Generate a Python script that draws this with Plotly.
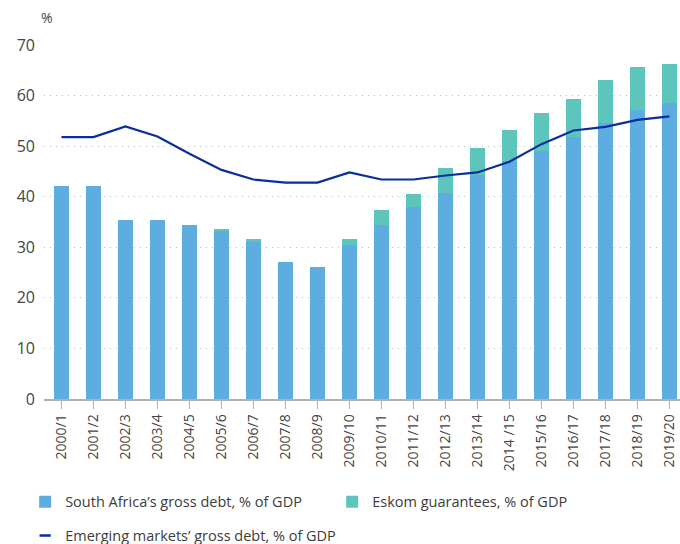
import plotly.graph_objects as go

years = ["2000/1", "2001/2", "2002/3", "2003/4", "2004/5", "2005/6", "2006/7", "2007/8",
         "2008/9", "2009/10", "2010/11", "2011/12", "2012/13", "2013/14", "2014 /15",
         "2015/16", "2016/17", "2017/18", "2018/19", "2019/20"]
sa_debt = [42.2, 42.2, 35.3, 35.3, 34.5, 33.2, 31.1, 27.0, 26.2, 30.4,
           34.5, 38.0, 40.8, 44.2, 47.1, 49.1, 51.9, 54.6, 57.2, 58.6]
eskom = [0, 0, 0, 0, 0, 0.5, 0.6, 0, 0, 1.3,
         2.8, 2.6, 4.8, 5.5, 6.0, 7.5, 7.5, 8.4, 8.5, 7.7]
em_debt = [51.8, 51.8, 53.9, 51.9, 48.5, 45.3, 43.4, 42.8, 42.8, 44.8,
           43.4, 43.4, 44.2, 44.8, 46.9, 50.4, 53.1, 53.8, 55.2, 55.9]
y_ticks = [0, 10, 20, 30, 40, 50, 60, 70]

BLUE = "#5dade0"
TEAL = "#5ec5bc"
NAVY = "#0a2d9e"
FONT = "Open Sans"
TXT = "#444444"

fig = go.Figure()
fig.add_trace(go.Bar(x=years, y=sa_debt, name="South Africa’s gross debt, % of GDP",
                     marker=dict(color=BLUE, line=dict(width=0)), legend="legend"))
fig.add_trace(go.Bar(x=years, y=eskom, name="Eskom guarantees, % of GDP",
                     marker=dict(color=TEAL, line=dict(width=0)), legend="legend"))
fig.add_trace(go.Scatter(x=years, y=em_debt, mode="lines", name="Emerging markets’ gross debt, % of GDP",
                         line=dict(color=NAVY, width=2.2), showlegend=False))
# legend-only entry with a short line symbol
fig.add_trace(go.Scatter(x=[None], y=[None], mode="markers", name="Emerging markets’ gross debt, % of GDP",
                         marker=dict(symbol="line-ew", size=8, color=NAVY, line=dict(width=2.5, color=NAVY)),
                         legend="legend2"))

fig.update_layout(
    width=680, height=544,
    margin=dict(l=44, r=0, t=45, b=145),
    paper_bgcolor="white", plot_bgcolor="white",
    barmode="stack", bargap=0.53,
    font=dict(family=FONT, color=TXT, size=14),
    showlegend=True,
    legend=dict(orientation="h", xref="container", yref="container", x=0.037, y=1 - 501.7 / 544,
                xanchor="left", yanchor="middle", entrywidth=262, entrywidthmode="pixels",
                font=dict(size=14.5, color="#3c3c3c"), bgcolor="rgba(0,0,0,0)", traceorder="normal"),
    legend2=dict(orientation="h", xref="container", yref="container", x=0.037, y=1 - 535.5 / 544,
                 xanchor="left", yanchor="middle",
                 font=dict(size=14.5, color="#3c3c3c"), bgcolor="rgba(0,0,0,0)"),
    xaxis=dict(type="category", range=[-0.547, 19.33], tickangle=-90,
               showline=True, linecolor="#b0b0b0", linewidth=1.5,
               ticks="outside", ticklen=8, tickcolor="#b0b0b0", tickwidth=1,
               showgrid=False, tickfont=dict(size=14, color=TXT)),
    yaxis=dict(range=[0, 70], tickvals=y_ticks, showgrid=True, gridcolor="#bdbdbd", gridwidth=1,
               griddash="1px,5px", zeroline=False, showline=False, ticks="",
               ticklabelstandoff=8, tickfont=dict(size=16, color=TXT)),
    annotations=[dict(text="%", xref="paper", yref="paper", x=0.005, y=1.0777,
                      xanchor="center", yanchor="middle", showarrow=False,
                      font=dict(size=14, color=TXT))],
)

fig.write_html("out.html", config={"displayModeBar": False},
               post_script="document.body.style.margin='0';document.body.style.overflow='hidden';")
